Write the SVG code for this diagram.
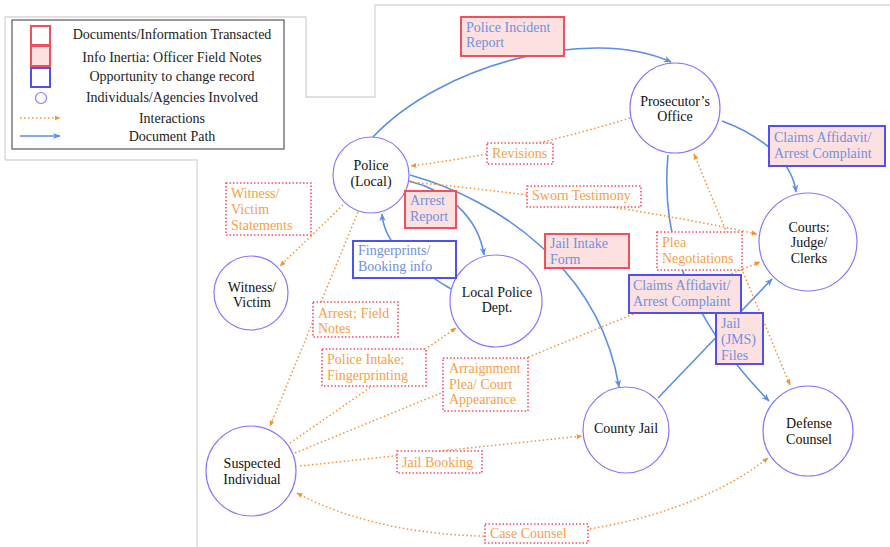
<svg xmlns="http://www.w3.org/2000/svg" width="890" height="547" viewBox="0 0 890 547">
<defs>
<marker id="ab" viewBox="0 0 10 10" refX="9" refY="5" markerWidth="8" markerHeight="8" orient="auto-start-reverse" markerUnits="userSpaceOnUse"><path d="M0,1 L10,5 L0,9 L3,5 z" fill="#5b8ee6"/></marker>
<marker id="ao" viewBox="0 0 10 10" refX="9" refY="5" markerWidth="6" markerHeight="6" orient="auto-start-reverse" markerUnits="userSpaceOnUse"><path d="M0,1 L10,5 L0,9 z" fill="#f59235"/></marker>
<style>
.frame{fill:none;stroke:#d6d6d6;stroke-width:1.3}
.blue{fill:none;stroke:#5b8ee6;stroke-width:1.6;marker-end:url(#ab)}
.or{fill:none;stroke:#f59235;stroke-width:1.5;stroke-dasharray:1.5 2.5;marker-end:url(#ao)}
.or2{marker-start:url(#ao)}
.node circle{fill:#fff;stroke:#8877ff;stroke-width:1.2}
.node text{font-family:"Liberation Serif","DejaVu Serif",serif;font-size:14px;fill:#111;text-anchor:middle}
.doc rect{fill:#fde1e1;stroke:#f0505c;stroke-width:2}
.opp rect{fill:#fde1e1;stroke:#5050ee;stroke-width:2}
.oppw rect{fill:#fff;stroke:#5050ee;stroke-width:2}
.inter rect{fill:#fff;stroke:#ff4a68;stroke-width:1.6;stroke-dasharray:1.5 2}
.bt{font-family:"Liberation Serif","DejaVu Serif",serif;font-size:14px;fill:#6f90e2}
.ot{font-family:"Liberation Serif","DejaVu Serif",serif;font-size:14px;fill:#f8a045}
.lt{font-family:"Liberation Serif","DejaVu Serif",serif;font-size:14px;fill:#222;text-anchor:middle}
</style>
</defs>
<rect width="890" height="547" fill="#fff"/>
<g id="frames">
<path class="frame" d="M5,160 L5,17 L306,17 L306,97 L375,97 L375,5 L890,5"/>
<path class="frame" d="M5,160 L197,160 L197,547"/>
</g>
<g id="legend">
<rect x="12" y="20" width="272" height="129" fill="#fff" stroke="#666" stroke-width="1.3"/>
<rect x="31" y="26" width="19" height="19" fill="#fff" stroke="#f0505c" stroke-width="2"/>
<rect x="31" y="46" width="19" height="20" fill="#fde1e1" stroke="#f0505c" stroke-width="2"/>
<rect x="31" y="68" width="19" height="19" fill="#fff" stroke="#5050ee" stroke-width="2"/>
<circle cx="41" cy="98" r="5.5" fill="#fff" stroke="#8877ff" stroke-width="1.2"/>
<path class="or" d="M20,118 L60,118"/>
<path class="blue" d="M20,136 L60,136"/>
<text class="lt" x="172" y="39">Documents/Information Transacted</text>
<text class="lt" x="172" y="62">Info Inertia: Officer Field Notes</text>
<text class="lt" x="172" y="81">Opportunity to change record</text>
<text class="lt" x="172" y="102">Individuals/Agencies Involved</text>
<text class="lt" x="172" y="123">Interactions</text>
<text class="lt" x="172" y="141">Document Path</text>
</g>
<g id="connectors">
<path class="blue" d="M373,137 C440,65 590,25 671,62"/>
<path class="blue" d="M722,121 C760,135 792,160 796,192"/>
<path class="blue" d="M668,155 C660,240 690,320 769,401"/>
<path class="blue" d="M409,181 C445,190 478,215 484,255"/>
<path class="blue" d="M451,289 C420,270 385,250 382,214"/>
<path class="blue" d="M410,175 C500,200 600,270 619,387"/>
<path class="blue" d="M658,398 L772,279"/>
<path class="or" d="M630,118 Q520,152 411,166"/>
<path class="or" d="M410,182 Q600,200 757,234"/>
<path class="or" d="M343,205 L280,266"/>
<path class="or" d="M358,212 L270,426"/>
<path class="or" d="M290,443 L456,328"/>
<path class="or" d="M295,453 L760,262"/>
<path class="or" d="M300,466 L582,436"/>
<path class="or or2" d="M297,493 C420,560 650,550 768,458"/>
<path class="or or2" d="M694,154 L790,385"/>
</g>
<g id="police" class="node"><circle cx="371" cy="175" r="38"/><text x="371" y="170">Police</text><text x="371" y="186">(Local)</text></g>
<g id="prosecutor" class="node"><circle cx="675" cy="108" r="45"/><text x="675" y="106">Prosecutor’s</text><text x="675" y="121">Office</text></g>
<g id="courts" class="node"><circle cx="808" cy="242" r="49"/><text x="809" y="232">Courts:</text><text x="809" y="247">Judge/</text><text x="809" y="263">Clerks</text></g>
<g id="witness" class="node"><circle cx="251" cy="293" r="37"/><text x="252" y="292">Witness/</text><text x="252" y="307">Victim</text></g>
<g id="localpolice" class="node"><circle cx="496" cy="301" r="46"/><text x="497" y="297">Local Police</text><text x="497" y="312">Dept.</text></g>
<g id="suspect" class="node"><circle cx="251" cy="471" r="45"/><text x="252" y="468">Suspected</text><text x="252" y="484">Individual</text></g>
<g id="countyjail" class="node"><circle cx="626" cy="430" r="43"/><text x="626" y="433">County Jail</text></g>
<g id="defense" class="node"><circle cx="808" cy="431" r="45"/><text x="809" y="428">Defense</text><text x="809" y="444">Counsel</text></g>
<g id="incident-report" class="doc"><rect x="461" y="17" width="103" height="39"/><text class="bt" x="466" y="32">Police Incident</text><text class="bt" x="466" y="47">Report</text></g>
<g id="revisions" class="inter"><rect x="487" y="143" width="66" height="21"/><text class="ot" x="492" y="158">Revisions</text></g>
<g id="sworn" class="inter"><rect x="527" y="186" width="114" height="21"/><text class="ot" x="532" y="200">Sworn Testimony</text></g>
<g id="arrest-report" class="doc"><rect x="405" y="191" width="51" height="37"/><text class="bt" x="410" y="205">Arrest</text><text class="bt" x="410" y="221">Report</text></g>
<g id="fingerprints" class="oppw"><rect x="353" y="241" width="103" height="37"/><text class="bt" x="358" y="255">Fingerprints/</text><text class="bt" x="358" y="271">Booking info</text></g>
<g id="witness-statements" class="inter"><rect x="226" y="183" width="85" height="52"/><text class="ot" x="231" y="198">Witness/</text><text class="ot" x="231" y="214">Victim</text><text class="ot" x="231" y="230">Statements</text></g>
<g id="jail-intake" class="doc"><rect x="545" y="234" width="84" height="34"/><text class="bt" x="550" y="248">Jail Intake</text><text class="bt" x="550" y="264">Form</text></g>
<g id="plea" class="inter"><rect x="657" y="232" width="85" height="38"/><text class="ot" x="662" y="247">Plea</text><text class="ot" x="662" y="263">Negotiations</text></g>
<g id="claims1" class="opp"><rect x="769" y="126" width="116" height="40"/><text class="bt" x="774" y="142">Claims Affidavit/</text><text class="bt" x="774" y="158">Arrest Complaint</text></g>
<g id="claims2" class="opp"><rect x="629" y="275" width="112" height="38"/><text class="bt" x="633" y="290">Claims Affidavit/</text><text class="bt" x="633" y="306">Arrest Complaint</text></g>
<g id="jms" class="opp"><rect x="716" y="313" width="47" height="51"/><text class="bt" x="721" y="328">Jail</text><text class="bt" x="721" y="344">(JMS)</text><text class="bt" x="721" y="360">Files</text></g>
<g id="arrest-notes" class="inter"><rect x="313" y="302" width="85" height="35"/><text class="ot" x="318" y="318">Arrest; Field</text><text class="ot" x="318" y="333">Notes</text></g>
<g id="intake" class="inter"><rect x="322" y="349" width="104" height="37"/><text class="ot" x="327" y="364">Police Intake;</text><text class="ot" x="327" y="380">Fingerprinting</text></g>
<g id="arraignment" class="inter"><rect x="443" y="358" width="85" height="53"/><text class="ot" x="449" y="373">Arraignment</text><text class="ot" x="449" y="389">Plea/ Court</text><text class="ot" x="449" y="404">Appearance</text></g>
<g id="jail-booking" class="inter"><rect x="397" y="451" width="85" height="22"/><text class="ot" x="402" y="467">Jail Booking</text></g>
<g id="case-counsel" class="inter"><rect x="485" y="524" width="103" height="19"/><text class="ot" x="490" y="538">Case Counsel</text></g>
</svg>
